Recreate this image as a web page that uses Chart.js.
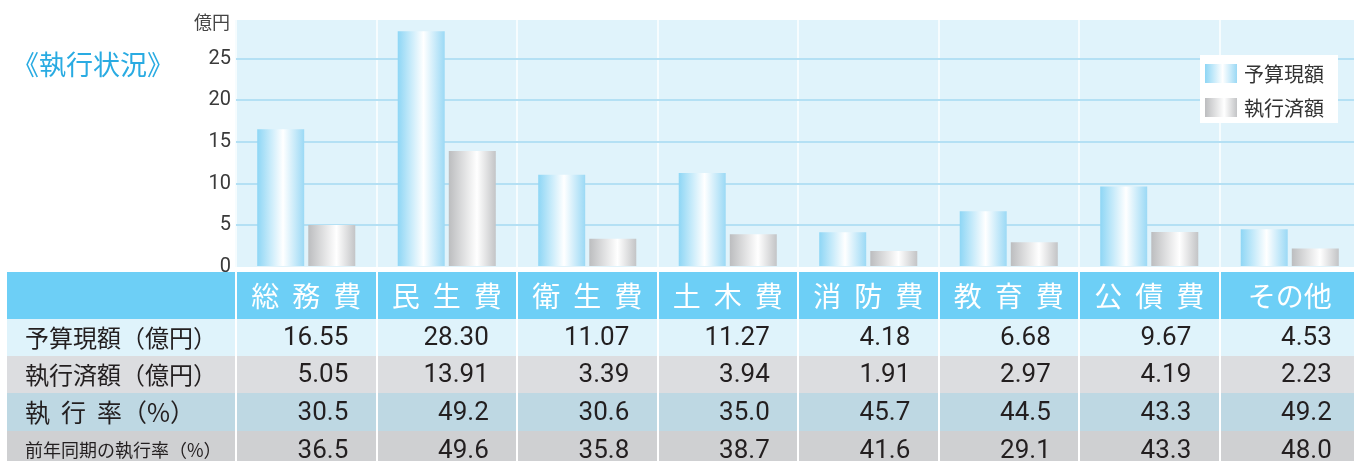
<!DOCTYPE html>
<html>
<head>
<meta charset="utf-8">
<script src="https://cdn.jsdelivr.net/npm/chart.js@4"></script>
<style>
  html, body { margin: 0; padding: 0; overflow: hidden; background: #fff; }
</style>
</head>
<body>
<canvas id="myChart" width="1360" height="461"></canvas>
<script>
// data
var categories = ["総 務 費", "民 生 費", "衛 生 費", "土 木 費", "消 防 費", "教 育 費", "公 債 費", "その他"];
var budget = [16.55, 28.30, 11.07, 11.27, 4.18, 6.68, 9.67, 4.53];
var executed = [5.05, 13.91, 3.39, 3.94, 1.91, 2.97, 4.19, 2.23];
var execRate = [30.5, 49.2, 30.6, 35.0, 45.7, 44.5, 43.3, 49.2];
var prevRate = [36.5, 49.6, 35.8, 38.7, 41.6, 29.1, 43.3, 48.0];
var yTicks = [0, 5, 10, 15, 20, 25];
var seriesNames = ["予算現額", "執行済額"];
var rowLabels = ["予算現額（億円）", "執行済額（億円）", "執 行 率（%）", "前年同期の執行率（%）"];
var title = "《執行状況》";
var unitLabel = "億円";

var JP = '"Noto Sans CJK JP", "Noto Sans", sans-serif';
var NUM = 'Roboto, "Noto Sans", sans-serif';
var CAT_PCT = 0.727, BAR_PCT = 0.92;

var blueStops = [[0, "#8ed6f5"], [0.55, "#ffffff"], [1, "#9bd9f5"]];
var grayStops = [[0, "#bcbdbf"], [0.6, "#ffffff"], [1, "#c3c4c6"]];

function makeGrad(ctx, x0, x1, stops) {
  var g = ctx.createLinearGradient(x0, 0, x1, 0);
  stops.forEach(function (s) { g.addColorStop(s[0], s[1]); });
  return g;
}

function barFill(stops, side) {
  return function (c) {
    var chart = c.chart, xs = chart.scales.x;
    if (!xs || c.dataIndex === undefined || !xs.width) return stops[0][1];
    var catW = xs.width / categories.length;
    var slot = catW * CAT_PCT / 2;
    var mid = xs.getPixelForValue(c.dataIndex) + side * slot / 2;
    var half = slot * BAR_PCT / 2;
    if (!isFinite(mid) || !isFinite(half)) return stops[0][1];
    return makeGrad(chart.ctx, mid - half, mid + half, stops);
  };
}

// draw text where a space becomes a fixed gap
function spacedWidth(ctx, text, gap) {
  var w = 0;
  for (var i = 0; i < text.length; i++) {
    w += text[i] === " " ? gap : ctx.measureText(text[i]).width;
  }
  return w;
}
function drawSpaced(ctx, text, x, y, gap) {
  for (var i = 0; i < text.length; i++) {
    if (text[i] === " ") { x += gap; continue; }
    ctx.fillText(text[i], x, y);
    x += ctx.measureText(text[i]).width;
  }
}

var bgPlugin = {
  id: "plotBg",
  beforeDraw: function (chart) {
    var a = chart.chartArea, ctx = chart.ctx;
    ctx.save();
    ctx.fillStyle = "#e0f3fb";
    ctx.fillRect(a.left, a.top, a.right - a.left, a.bottom - a.top);
    ctx.restore();
  }
};

var tablePlugin = {
  id: "dataTable",
  afterDraw: function (chart) {
    var ctx = chart.ctx, xs = chart.scales.x;
    var catW = xs.width / categories.length;
    ctx.save();

    // title and unit
    ctx.textBaseline = "middle";
    ctx.fillStyle = "#29abe2";
    ctx.font = "27px " + JP;
    ctx.textAlign = "left";
    ctx.fillText(title, 12, 65);
    ctx.fillStyle = "#444";
    ctx.font = "18px " + JP;
    ctx.textAlign = "right";
    ctx.fillText(unitLabel, 230, 22);

    // legend box
    ctx.fillStyle = "#ffffff";
    ctx.fillRect(1200, 55, 138, 68);
    [blueStops, grayStops].forEach(function (st, k) {
      var y = 64 + k * 34;
      ctx.fillStyle = makeGrad(ctx, 1205, 1237, st);
      ctx.fillRect(1205, y, 32, 19);
      ctx.fillStyle = "#333";
      ctx.font = "20px " + JP;
      ctx.textAlign = "left";
      ctx.fillText(seriesNames[k], 1244, y + 10);
    });

    // table rows
    var rows = [
      { top: 272, h: 47, bg: "#6dcff6" },
      { top: 319, h: 37, bg: "#dff3fb", vals: budget, dec: 2 },
      { top: 356, h: 37, bg: "#dcdde0", vals: executed, dec: 2 },
      { top: 393, h: 38, bg: "#bed8e3", vals: execRate, dec: 1 },
      { top: 431, h: 38, bg: "#cfd0d2", vals: prevRate, dec: 1 }
    ];
    var tLeft = 7, tRight = chart.width;
    rows.forEach(function (r, ri) {
      ctx.fillStyle = r.bg;
      ctx.fillRect(tLeft, r.top, tRight - tLeft, r.h);
      var cy = r.top + r.h / 2;
      if (ri === 0) {
        ctx.fillStyle = "#ffffff";
        ctx.font = "28px " + JP;
        ctx.textAlign = "left";
        categories.forEach(function (c, i) {
          var w = spacedWidth(ctx, c, 13);
          drawSpaced(ctx, c, xs.getPixelForValue(i) - w / 2, cy + 1, 13);
        });
        return;
      }
      var lab = rowLabels[ri - 1];
      ctx.fillStyle = "#231f20";
      ctx.textAlign = "left";
      var fs = 25;
      ctx.font = fs + "px " + JP;
      var lw = spacedWidth(ctx, lab, 11);
      if (lw > 198) { fs = Math.floor(fs * 198 / lw); ctx.font = fs + "px " + JP; }
      drawSpaced(ctx, lab, 25, cy, 11);

      ctx.font = "26px " + NUM;
      ctx.textAlign = "right";
      r.vals.forEach(function (v, i) {
        ctx.fillText(v.toFixed(r.dec), xs.getPixelForValue(i) + 42, cy + 1);
      });
    });

    // white column separators
    ctx.strokeStyle = "#ffffff";
    ctx.lineWidth = 2;
    for (var i = 0; i <= categories.length; i++) {
      var x = Math.round(xs.getPixelForValue(i) - catW / 2);
      ctx.beginPath();
      ctx.moveTo(x, 272);
      ctx.lineTo(x, chart.height);
      ctx.stroke();
    }
    ctx.restore();
  }
};

var ctx = document.getElementById("myChart").getContext("2d");
var chart = new Chart(ctx, {
  type: "bar",
  data: {
    labels: categories,
    datasets: [
      {
        label: seriesNames[0],
        data: budget,
        backgroundColor: barFill(blueStops, -1),
        borderWidth: 0,
        barPercentage: BAR_PCT,
        categoryPercentage: CAT_PCT
      },
      {
        label: seriesNames[1],
        data: executed,
        backgroundColor: barFill(grayStops, 1),
        borderWidth: 0,
        barPercentage: BAR_PCT,
        categoryPercentage: CAT_PCT
      }
    ]
  },
  options: {
    responsive: false,
    animation: false,
    layout: { padding: { top: 20, bottom: 194, left: 0, right: 0 } },
    plugins: {
      legend: { display: false },
      tooltip: { enabled: false }
    },
    scales: {
      x: {
        offset: true,
        ticks: { display: false },
        border: { display: false },
        grid: { offset: true, color: "#f6fcfe", lineWidth: 2, drawTicks: false },
        afterFit: function (s) { s.height = 0; }
      },
      y: {
        min: 0,
        max: 29.65,
        afterBuildTicks: function (s) {
          s.ticks = yTicks.map(function (v) { return { value: v }; });
        },
        afterFit: function (s) { s.width = 236; },
        border: { display: false },
        grid: {
          drawTicks: false,
          lineWidth: 2,
          color: function (c) { return c.tick && c.tick.value === 0 ? "rgba(0,0,0,0)" : "#b4e0f4"; }
        },
        ticks: {
          padding: 5,
          color: "#3a3a3a",
          font: { family: "Roboto", size: 20 }
        }
      }
    }
  },
  plugins: [bgPlugin, tablePlugin]
});
</script>
</body>
</html>
